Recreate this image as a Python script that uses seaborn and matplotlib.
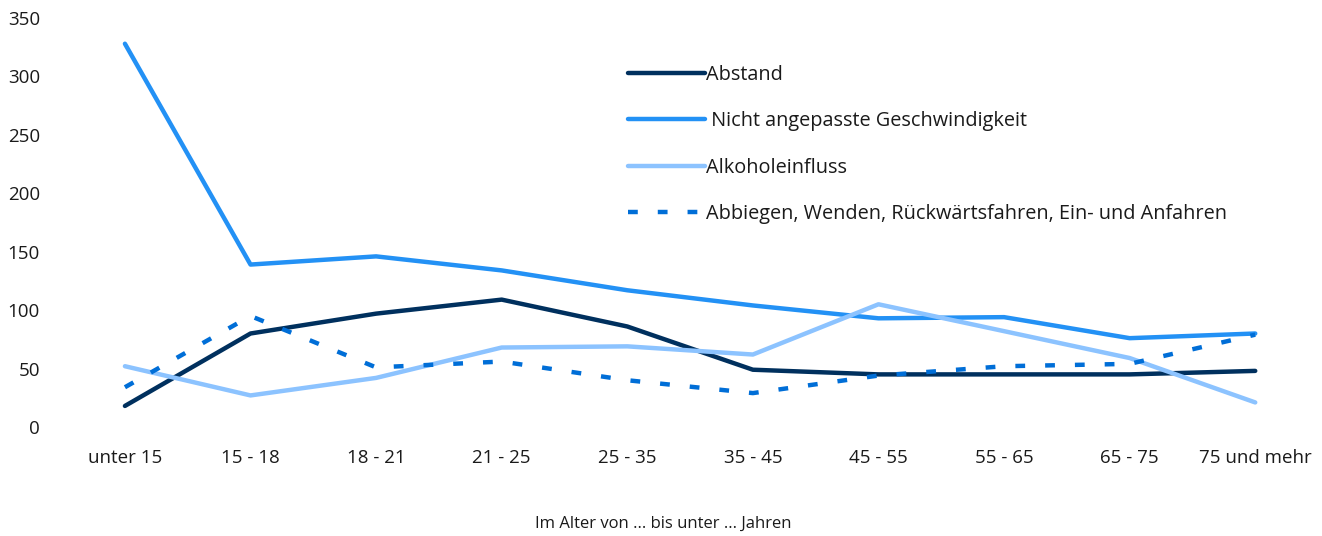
import matplotlib
matplotlib.use("Agg")
import matplotlib.pyplot as plt
import seaborn as sns
import pandas as pd

categories = ["unter 15", "15 - 18", "18 - 21", "21 - 25", "25 - 35", "35 - 45",
              "45 - 55", "55 - 65", "65 - 75", "75 und mehr"]
abstand = [18, 80, 97, 109, 86, 49, 45, 45, 45, 48]
geschwindigkeit = [328, 139, 146, 134, 117, 104, 93, 94, 76, 80]
alkohol = [52, 27, 42, 68, 69, 62, 105, 82, 59, 21]
abbiegen = [34, 95, 51, 56, 40, 29, 44, 52, 54, 79]
series_names = ["Abstand", " Nicht angepasste Geschwindigkeit", "Alkoholeinfluss",
                "Abbiegen, Wenden, Rückwärtsfahren, Ein- und Anfahren"]
yticks = [0, 50, 100, 150, 200, 250, 300, 350]

sns.set_theme(style="white")
plt.rcParams['font.family'] = ['Open Sans', 'DejaVu Sans']

colors = ["#00305E", "#2391F5", "#8CC3FF", "#006ED7"]
all_vals = [abstand, geschwindigkeit, alkohol, abbiegen]

fig = plt.figure(figsize=(13.22, 5.36), dpi=100)
ax = fig.add_axes([0.047, 0.2034, 0.95, 0.763])

x = list(range(len(categories)))
for name, vals, col in zip(series_names, all_vals, colors):
    df = pd.DataFrame({"x": x, "y": vals})
    sns.lineplot(data=df, x="x", y="y", ax=ax, color=col, linewidth=3.2, label=name)

ax.lines[3].set_dashes([2.2, 4.5])
ax.lines[3].set_dash_capstyle("butt")

ax.set_xlim(-0.5, len(categories) - 0.5)
ax.set_ylim(0, 350)
ax.set_xticks(x)
ax.set_xticklabels(categories, fontsize=13.5, color="#1a1a1a")
ax.set_yticks(yticks)
ax.set_yticklabels([str(v) for v in yticks], fontsize=13.5, color="#1a1a1a")
ax.tick_params(axis="both", length=0)
ax.tick_params(axis="x", pad=16)
ax.tick_params(axis="y", pad=16)
for s in ax.spines.values():
    s.set_visible(False)
ax.set_xlabel("")
ax.set_ylabel("")
fig.text(0.502, 0.008, "Im Alter von ... bis unter ... Jahren", ha="center", va="bottom",
         fontsize=12, color="#1a1a1a")

leg = ax.legend(loc="upper left", bbox_to_anchor=(0.436, 0.93), frameon=False,
                fontsize=14.3, handlelength=3.9, handletextpad=0.05, labelspacing=1.34)
for t in leg.get_texts():
    t.set_color("#1a1a1a")

fig.savefig("out.png", dpi=100)
